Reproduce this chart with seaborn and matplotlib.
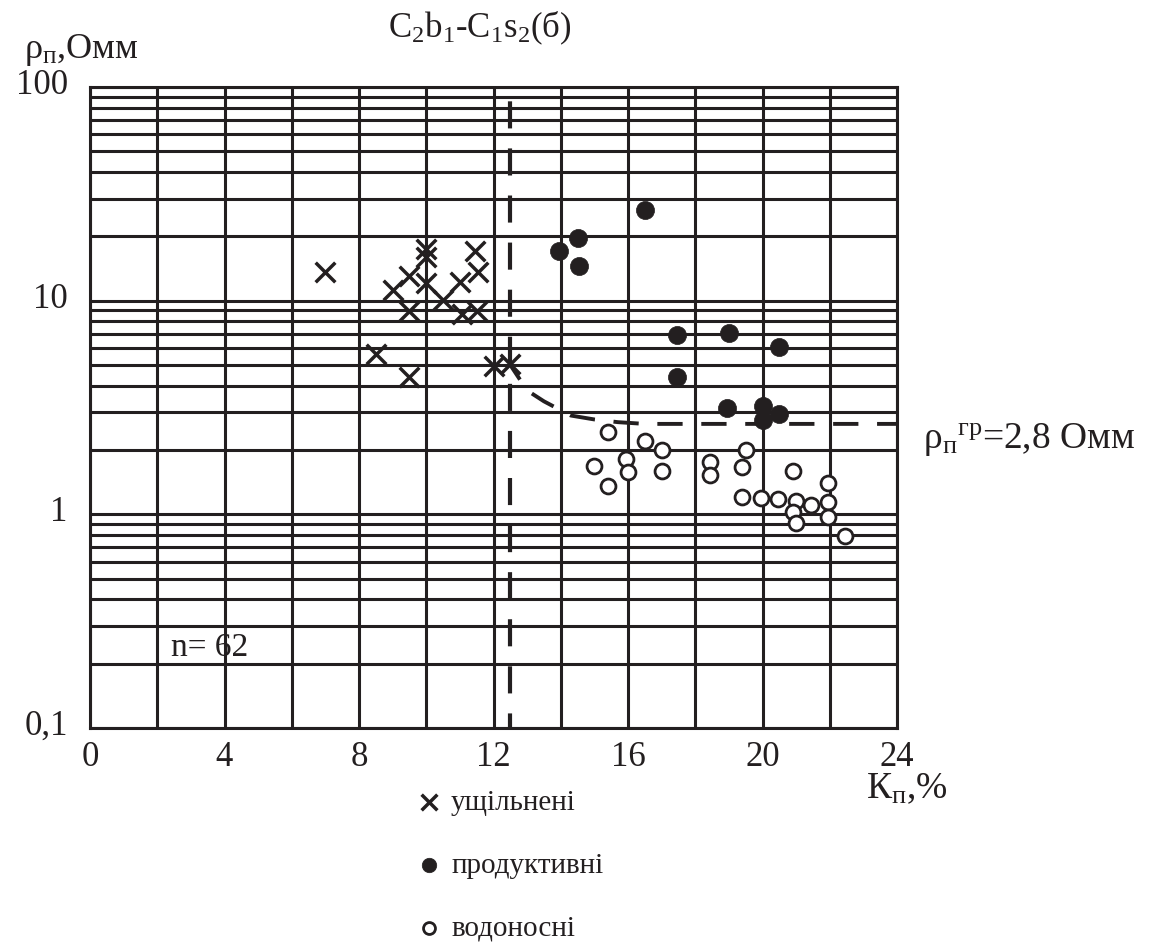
import matplotlib
matplotlib.use("Agg")
import matplotlib.pyplot as plt
import matplotlib.transforms as mtransforms
import seaborn as sns
import numpy as np
import pandas as pd
from matplotlib.ticker import FixedLocator, NullFormatter, MultipleLocator

# ---- data ----
compact_k = [7.0, 9.0, 9.5, 10.0, 10.0, 10.0, 9.5, 10.5, 11.0, 11.45, 11.55, 11.05, 11.5, 8.5, 9.5, 12.0, 12.5]
compact_r = [13.6, 11.2, 13.0, 17.5, 16.0, 12.1, 8.95, 10.1, 12.2, 17.1, 13.6, 8.7, 8.9, 5.6, 4.4, 4.95, 5.05]

prod_k = [16.5, 14.5, 13.95, 14.55, 17.45, 19.0, 20.5, 17.45, 18.95, 20.0, 20.5, 20.0]
prod_r = [26.7, 19.7, 17.0, 14.5, 6.9, 7.05, 6.05, 4.4, 3.15, 3.2, 2.96, 2.75]

water_k = [15.4, 16.5, 17.0, 15.95, 15.0, 16.0, 15.4, 17.0, 18.45, 18.45, 19.5, 19.4, 20.9,
           19.4, 19.95, 20.45, 21.0, 20.9, 21.0, 21.45, 21.95, 21.95, 21.95, 22.45]
water_r = [2.42, 2.2, 1.99, 1.81, 1.68, 1.58, 1.36, 1.6, 1.76, 1.53, 2.0, 1.66, 1.6,
           1.2, 1.19, 1.18, 1.16, 1.03, 0.915, 1.11, 1.4, 1.14, 0.975, 0.794]

boundary_k = [12.5, 13.0, 13.5, 14.3, 15.0, 15.7, 16.5, 24.0]
boundary_r = [5.0, 3.8, 3.38, 2.9, 2.78, 2.7, 2.65, 2.65]
cutoff_k = 12.5

x_ticks = [0, 4, 8, 12, 16, 20, 24]
y_ticks = [0.1, 1, 10, 100]
y_tick_labels = ["0,1", "1", "10", "100"]
legend_labels = ["ущільнені", "продуктивні", "водоносні"]

# ---- style ----
sns.set_theme(style="white")
plt.rcParams["font.family"] = ["Liberation Serif", "DejaVu Serif"]
plt.rcParams["mathtext.fontset"] = "custom"
plt.rcParams["mathtext.rm"] = "Liberation Serif"
plt.rcParams["mathtext.it"] = "Liberation Serif:italic"
plt.rcParams["mathtext.bf"] = "Liberation Serif:bold"
INK = "#231f20"

W, H = 1150, 944
fig = plt.figure(figsize=(W / 100, H / 100), dpi=100)
ax = fig.add_axes([90 / W, 1 - 728 / H, (897 - 90) / W, (728 - 87) / H])

ax.set_yscale("log")
ax.set_xlim(0, 24)
ax.set_ylim(0.1, 100)

# grid
ax.xaxis.set_major_locator(FixedLocator(x_ticks))
ax.xaxis.set_minor_locator(MultipleLocator(2))
ax.yaxis.set_major_locator(FixedLocator(y_ticks))
minor_y = [m * 10.0 ** e for e in (-1, 0, 1) for m in range(2, 10)]
ax.yaxis.set_minor_locator(FixedLocator(minor_y))
ax.yaxis.set_minor_formatter(NullFormatter())
ax.set_yticklabels(y_tick_labels)
ax.set_xticklabels([str(t) for t in x_ticks])
ax.grid(True, which="both", color=INK, lw=2.2)
ax.set_axisbelow(True)
ax.tick_params(which="both", length=0)
ax.tick_params(axis="x", labelsize=25, pad=9, colors=INK)
ax.tick_params(axis="y", labelsize=25, pad=16, colors=INK)
shift_up = mtransforms.ScaledTranslation(0, 4 / 72, fig.dpi_scale_trans)
for lbl in ax.get_yticklabels():
    lbl.set_transform(lbl.get_transform() + shift_up)
for s in ax.spines.values():
    s.set_visible(True)
    s.set_color(INK)
    s.set_linewidth(2.2)

# dashed lines
ax.axvline(cutoff_k, color=INK, lw=3, ls=(3, (6.5, 4.8)), zorder=3)
sns.lineplot(x=boundary_k, y=boundary_r, ax=ax, color=INK, lw=2.8,
             linestyle=(2, (6.5, 4.8)), sort=False, estimator=None, zorder=3)

# scatter
sns.scatterplot(x=compact_k, y=compact_r, ax=ax, marker="x", s=200,
                color=INK, linewidth=2.5, label=legend_labels[0], zorder=4)
sns.scatterplot(x=prod_k, y=prod_r, ax=ax, marker="o", s=170,
                color=INK, edgecolor=INK, linewidth=0.5, label=legend_labels[1], zorder=4)
sns.scatterplot(x=water_k, y=water_r, ax=ax, marker="o", s=115,
                facecolor="white", edgecolor=INK, linewidth=2.0, label=legend_labels[2], zorder=4)

ax.set_xlabel("")
ax.set_ylabel("")

leg = ax.legend(loc="upper left", bbox_to_anchor=(400 / W, 1 - 775 / H),
                bbox_transform=fig.transFigure, frameon=False, fontsize=21,
                labelspacing=1.25, handletextpad=0.25, markerscale=0.8,
                handlelength=1.0, borderpad=0)
for t in leg.get_texts():
    t.set_color(INK)

# texts
fig.text(480 / W, 1 - 28 / H, "C$_2$b$_1$-C$_1$s$_2$(б)", ha="center", va="center",
         fontsize=25, color=INK)
fig.text(24 / W, 1 - 50 / H, "ρ$_\\mathrm{п}$,Омм", ha="left", va="center",
         fontsize=26, color=INK)
fig.text(923 / W, 1 - 440 / H, "ρ$_\\mathrm{п}{}^\\mathrm{гр}$=2,8 Омм", ha="left",
         va="center", fontsize=27, color=INK)
fig.text(866 / W, 1 - 789 / H, "К$_\\mathrm{п}$,%", ha="left", va="center",
         fontsize=27, color=INK)
ax.text(3.57, 0.237, "n= 62", ha="center", va="center", fontsize=24, color=INK)

fig.savefig("out.png", dpi=100)
